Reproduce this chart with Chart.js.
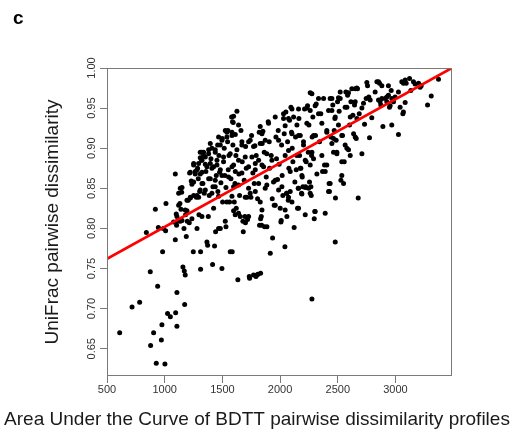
<!DOCTYPE html>
<html>
<head>
<meta charset="utf-8">
<script src="https://cdn.jsdelivr.net/npm/chart.js@4.4.1/dist/chart.umd.min.js"></script>
<style>
  html, body { margin: 0; padding: 0; background: #fff; }
  #wrap { width: 516px; height: 433px; }
</style>
</head>
<body>
<div id="wrap"><canvas id="chart" width="516" height="433"></canvas></div>
<script>
// Area under the curve of BDTT pairwise dissimilarity profiles (x)
const bdttAuc = [
  610,717,783,841,875,878,904,919,927,939,
  945,971,976,982,988,1002,1011,1008,1025,1049,
  1092,1095,1092,1106,1106,1100,1103,1112,1121,1132,
  1135,1141,1147,1150,1158,1170,1178,1173,1167,1181,
  1187,1193,1196,1204,1213,1216,1222,1230,1236,1248,
  1251,1251,1265,1274,1280,1285,1291,1297,1303,1308,
  1311,1311,1320,1323,1331,1337,1343,1352,1357,1366,
  1372,1378,1381,1386,1395,1401,1409,1415,1418,1424,
  1432,1438,1441,1447,1453,1459,1461,1470,1476,1482,
  1487,1496,1499,1502,1510,1516,1522,1525,1531,1531,
  1539,1545,1551,1557,1562,1568,1574,1580,1583,1585,
  1591,1594,1597,1603,1609,1611,1617,1620,1626,1634,
  1640,1643,1649,1655,1661,1669,1672,1678,1681,1689,
  1695,1701,1707,1713,1718,1727,1733,1736,1741,1747,
  1753,1756,1764,1770,1776,1782,1785,1791,1793,1799,
  1805,1808,1814,1819,1822,1828,1831,1837,1840,1845,
  1851,1857,1863,1866,1871,1880,1886,1897,1906,1909,
  1915,1923,1932,1935,1943,1949,1958,1964,1969,1978,
  1984,1987,1992,2001,2007,2013,2018,2024,2030,2036,
  2042,2044,2050,2056,2059,2065,2071,2076,2082,2088,
  2094,2099,2105,2111,2117,2122,2128,2134,2140,2146,
  2151,2157,2163,2169,2175,2180,2186,2192,2198,2203,
  2212,2218,2221,2226,2232,2238,2244,2250,2255,2261,
  2267,2273,2276,2278,2284,2290,2296,2301,2307,2313,
  2319,2333,2342,2353,2362,2368,2377,2385,2391,2405,
  2420,2425,2428,2434,2440,2449,2457,2463,2469,2475,
  2478,2480,2486,2492,2498,2506,2512,2521,2527,2535,
  2541,2550,2556,2564,2570,2579,2585,2593,2602,2608,
  2614,2622,2631,2637,2645,2651,2660,2666,2671,2677,
  2686,2709,2723,2732,2746,2758,2769,2775,2795,2824,
  2839,2853,2862,2873,2882,2891,2911,2925,2939,2948,
  2963,2968,2983,2997,3026,3040,3055,3064,3084,3093,
  3122,3133,3156,3200,3223,3278,3310,3373,
  1597,1588,1548,1583,1612,1539,1496,1482,1438,1409,
  1381,1352,1323,1294,1280,1308,1366,1395,1453,1510,
  1568,1626,1669,1727,1770,1828,1843,1900,2030,2044,
  1987,1885,1929,1843,1785,1727,1669,1612,1554,1496,
  1438,1381,1323,1352,1409,1294,1467,1539,1583,1698,
  1741,1814,1885,1958,2016,2073,1958,2044,1843,1640,
  1727,
  1323,1308,1251,1265,1222,1251,1135,1222,1280,1193,
  1121,1178,1106,1150,1077,1236,1323,
  2752,2665,2593,2521,2506,2449,2276,2232,2261,2304,
  2333,2449,2478,2564,2608,2651,2709,2781,2103,2160,
  2073,2103,2160,2203,2290,2405,2463,2535,2579,2651,
  2073,2146,2218,2276,2362,2492,2405,2535,2088,2175,
  2261,2189,2391,2434,2059,2160,2247,2103,2261,2420,
  2160,2304,
  3214,3170,3084,3069,3026,3069,2968,2939,2925,2954,
  2882,2867,2853,
  1467,2010,1700,1597,1831,2218,2189,2270,
  1337,1395,1467,1525,1424,1482,1583,1640,1308,1438,
  1597,1640,1785,1698,1871,1828
];

// UniFrac pairwise dissimilarity (y)
const unifracDissim = [
  .670,.702,.708,.795,.746,.654,.670,.824,.632,.728,
  .801,.661,.680,.771,.800,.631,.831,.797,.694,.690,
  .786,.695,.868,.720,.678,.818,.804,.809,.844,.831,
  .809,.824,.845,.851,.752,.747,.742,.705,.800,.817,
  .790,.822,.809,.835,.807,.869,.838,.859,.855,.771,
  .841,.879,.868,.839,.800,.875,.862,.817,.846,.895,
  .771,.749,.885,.870,.856,.891,.844,.880,.871,.783,
  .779,.815,.898,.841,.862,.887,.875,.755,.852,.825,
  .778,.895,.796,.866,.879,.904,.846,.891,.870,.800,
  .857,.750,.912,.833,.883,.900,.866,.809,.802,.851,
  .920,.908,.873,.891,.833,.771,.862,.939,.916,.771,
  .904,.932,.879,.833,.856,.817,.891,.825,.946,.736,
  .929,.868,.841,.815,.922,.908,.883,.809,.796,.860,
  .815,.902,.875,.839,.811,.850,.740,.738,.910,.839,
  .916,.889,.869,.742,.856,.903,.846,.740,.891,.742,
  .837,.743,.885,.920,.804,.833,.744,.815,.804,.906,
  .921,.877,.895,.802,.850,.864,.802,.933,.908,.875,
  .769,.891,.837,.788,.858,.829,.939,.914,.887,.861,
  .922,.848,.880,.825,.808,.904,.866,.841,.937,.918,
  .777,.891,.945,.844,.815,.908,.835,.875,.935,.846,
  .951,.920,.900,.883,.939,.801,.858,.914,.873,.929,
  .825,.850,.937,.891,.916,.875,.844,.864,.852,.904,
  .949,.817,.852,.883,.931,.953,.895,.929,.858,.969,
  .852,.891,.712,.914,.939,.887,.812,.821,.916,.955,
  .868,.962,.908,.943,.931,.871,.962,.879,.819,.922,
  .947,.856,.846,.962,.914,.906,.954,.895,.922,.937,
  .783,.838,.910,.895,.958,.929,.946,.962,.860,.866,
  .916,.856,.883,.904,.970,.951,.966,.898,.929,.891,
  .958,.974,.941,.918,.954,.974,.912,.937,.974,.838,
  .943,.893,.956,.930,.962,.978,.964,.913,.938,.970,
  .983,.960,.981,.954,.978,.927,.962,.964,.978,.951,
  .972,.929,.958,.964,.917,.951,.983,.943,.957,.981,
  .987,.972,.983,.981,.978,.954,.965,.986,
  .940,.933,.922,.920,.917,.914,.910,.904,.898,.900,
  .893,.889,.885,.881,.873,.868,.877,.881,.885,.889,
  .893,.898,.904,.908,.902,.906,.918,.931,.943,.928,
  .910,.893,.885,.879,.873,.877,.869,.871,.864,.866,
  .860,.862,.856,.848,.844,.839,.840,.833,.840,.839,
  .844,.856,.854,.860,.852,.839,.829,.823,.823,.819,
  .815,
  .895,.888,.881,.871,.870,.858,.850,.839,.841,.835,
  .829,.823,.815,.810,.808,.812,.815,
  .982,.975,.969,.970,.963,.962,.968,.950,.947,.953,
  .943,.947,.939,.951,.939,.958,.950,.960,.949,.949,
  .937,.918,.916,.908,.916,.920,.912,.916,.900,.914,
  .897,.891,.885,.895,.891,.893,.879,.883,.871,.875,
  .879,.866,.871,.856,.844,.850,.850,.833,.844,.846,
  .825,.821,
  .976,.980,.985,.981,.970,.945,.962,.966,.958,.953,
  .962,.958,.983,
  .800,.810,.807,.822,.812,.851,.843,.841,
  .895,.906,.914,.922,.877,.873,.877,.885,.848,.852,
  .852,.854,.881,.889,.910,.927
];

// least-squares fit line, read at the plot edges
const fitX = [500, 3490];
const fitY = [0.762, 1.0];

const xTicks = [500, 1000, 1500, 2000, 2500, 3000];
const yTicks = [0.65, 0.70, 0.75, 0.80, 0.85, 0.90, 0.95, 1.00];

const FONT = "'Liberation Sans', Arial, Helvetica, sans-serif";
Chart.defaults.font.family = FONT;

const points = bdttAuc.map((x, i) => ({ x: x, y: unifracDissim[i] }));
const fitLine = fitX.map((x, i) => ({ x: x, y: fitY[i] }));

// box, rotated y labels, x caption and panel letter
const decorations = {
  id: 'decorations',
  afterDraw(chart) {
    const { ctx, chartArea: a } = chart;
    const ys = chart.scales.y;
    ctx.save();
    ctx.strokeStyle = '#7a7a7a';
    ctx.lineWidth = 1;
    ctx.strokeRect(Math.round(a.left) + 0.5, Math.round(a.top) + 0.5,
      Math.round(a.right - a.left) - 1, Math.round(a.bottom - a.top) - 1);

    ctx.fillStyle = '#333';
    ctx.font = '11px ' + FONT;
    ctx.textAlign = 'center';
    ctx.textBaseline = 'alphabetic';
    ys.ticks.forEach(t => {
      const py = ys.getPixelForValue(t.value);
      ctx.save();
      ctx.translate(a.left - 12, py);
      ctx.rotate(-Math.PI / 2);
      ctx.fillText(t.value.toFixed(2), 0, 0);
      ctx.restore();
    });

    ctx.fillStyle = '#1a1a1a';
    ctx.font = '19px ' + FONT;
    ctx.fillText('Area Under the Curve of BDTT pairwise dissimilarity profiles', 257, 425);

    ctx.fillStyle = '#000';
    ctx.font = 'bold 19px ' + FONT;
    ctx.textAlign = 'left';
    ctx.fillText('c', 13, 24);
    ctx.restore();
  }
};

new Chart(document.getElementById('chart'), {
  type: 'scatter',
  data: {
    datasets: [
      {
        label: 'fit',
        data: fitLine,
        showLine: true,
        borderColor: '#ff0000',
        borderWidth: 2.8,
        pointRadius: 0,
        order: 0
      },
      {
        label: 'pairs',
        data: points,
        backgroundColor: '#000',
        borderWidth: 0,
        pointRadius: 2.5,
        order: 1
      }
    ]
  },
  options: {
    responsive: false,
    animation: false,
    devicePixelRatio: 1,
    events: [],
    layout: { padding: { top: 68, right: 64, bottom: 0, left: 0 } },
    plugins: { legend: { display: false }, tooltip: { enabled: false } },
    scales: {
      x: {
        type: 'linear',
        min: 500,
        max: 3490,
        afterBuildTicks: s => { s.ticks = xTicks.map(v => ({ value: v })); },
        afterFit: s => { s.height = 57; },
        border: { display: false },
        grid: { drawOnChartArea: false, tickLength: 7, tickColor: '#7a7a7a' },
        ticks: {
          color: '#333',
          font: { size: 11 },
          padding: 0,
          maxRotation: 0,
          autoSkip: false,
          callback: v => String(v)
        }
      },
      y: {
        type: 'linear',
        min: 0.616,
        max: 1.0,
        afterBuildTicks: s => { s.ticks = yTicks.map(v => ({ value: v })); },
        afterFit: s => { s.width = 107; },
        border: { display: false },
        grid: { drawOnChartArea: false, tickLength: 7, tickColor: '#7a7a7a' },
        ticks: { color: 'rgba(0,0,0,0)', font: { size: 11 } },
        title: {
          display: true,
          text: 'UniFrac pairwise dissimilarity',
          color: '#1a1a1a',
          font: { size: 19 },
          padding: { top: 41, bottom: 0 }
        }
      }
    }
  },
  plugins: [decorations]
});
</script>
</body>
</html>
